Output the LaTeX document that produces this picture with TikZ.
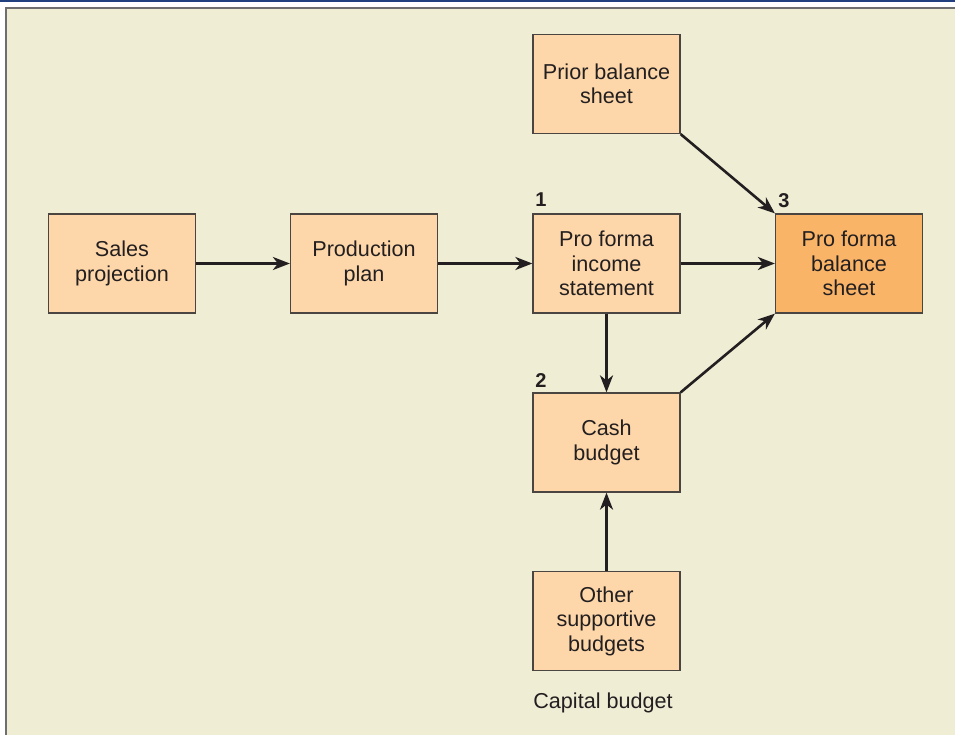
\documentclass[tikz,border=0pt]{standalone}
\usepackage{fontspec}
\setmainfont{Liberation Sans}
\usetikzlibrary{arrows.meta}
\definecolor{bgc}{HTML}{F0EDD5}
\definecolor{boxc}{HTML}{FDD7A9}
\definecolor{hotc}{HTML}{F9B468}
\definecolor{edgec}{HTML}{4A4540}
\definecolor{topblue}{HTML}{1F3F7F}
\definecolor{rulegray}{HTML}{6E6E6E}
\definecolor{txtc}{HTML}{231F20}
\tikzset{
  stepbox/.style={draw=edgec, line width=1.2pt, fill=boxc, minimum width=147pt, minimum height=99pt,
    inner sep=0pt, align=center, text=txtc, font=\fontsize{21.6}{24.5}\selectfont},
  hotbox/.style={stepbox, fill=hotc},
  numlab/.style={font=\fontsize{20}{22}\selectfont\bfseries, text=txtc, inner sep=0pt},
  flow/.style={line width=2.6pt, draw=txtc, -{Stealth[length=17pt,width=13pt,inset=5pt]}}
}
\begin{document}
\begin{tikzpicture}[x=1pt,y=-1pt]
\useasboundingbox (0,0) rectangle (955,735);
\fill[white] (0,0) rectangle (955,735);
\fill[topblue] (0,0) rectangle (955,2.5);
\fill[rulegray] (5,7) rectangle (955,9);
\fill[rulegray] (5,7) rectangle (7.2,735);
\fill[bgc] (7.2,9) rectangle (955,735);

\node[stepbox] (sales) at (122,263.5) {Sales\\projection};
\node[stepbox] (prod) at (364,263.5) {Production\\plan};
\node[stepbox] (inc) at (606.5,263.5) {Pro forma\\income\\statement};
\node[hotbox] (bal) at (849,263.5) {Pro forma\\balance\\sheet};
\node[stepbox] (prior) at (606.5,84) {Prior balance\\sheet};
\node[stepbox] (cash) at (606.5,442.5) {Cash\\budget};
\node[stepbox] (other) at (606.5,621) {Other\\supportive\\budgets};
\node[text=txtc, font=\fontsize{21.6}{24.5}\selectfont, inner sep=0pt] (cap) at (603,703) {Capital budget};

\node[numlab] (n1) at (541,200) {1};
\node[numlab] (n2) at (541,381) {2};
\node[numlab] (n3) at (784,201) {3};

\draw[flow] (sales) -- (prod);
\draw[flow] (prod) -- (inc);
\draw[flow] (inc) -- (bal);
\draw[flow] (inc) -- (cash);
\draw[flow] (other) -- (cash);
\draw[flow] (prior.south east) -- (bal.north west);
\draw[flow] (cash.north east) -- (bal.south west);
\end{tikzpicture}
\end{document}
